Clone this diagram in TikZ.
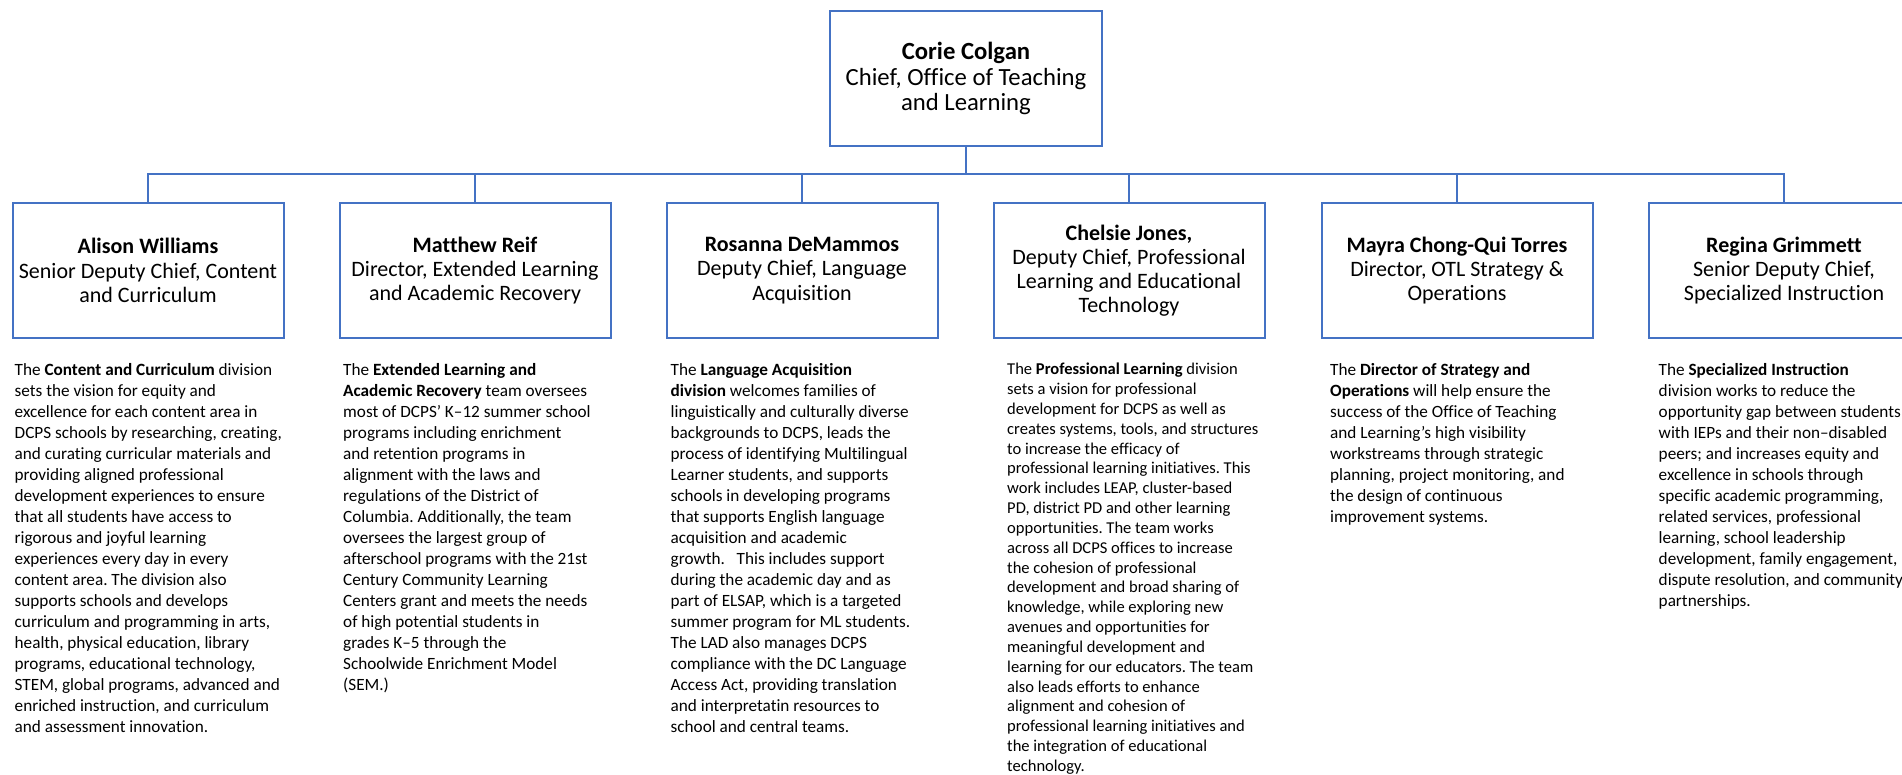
\documentclass[tikz,border=0pt]{standalone}
\usepackage{fontspec}
\setmainfont{Carlito}[Ligatures=NoCommon]
\usepackage{xcolor}
\usetikzlibrary{positioning}
\definecolor{boxblue}{HTML}{4472C4}
\frenchspacing

\begin{document}
\begin{tikzpicture}[x=1pt, y=-1pt,
    person/.style={draw=boxblue, line width=2pt, minimum width=271pt, minimum height=135pt,
        align=center, inner sep=0pt, font={\fontsize{22}{24.2}\selectfont}},
    blurb/.style={anchor=north west, inner sep=0pt, align=left,
        font={\fontsize{17.2}{21}\selectfont}},
    link/.style={draw=boxblue, line width=2pt}]
    \useasboundingbox (0,0) rectangle (1902,775);

    \node[person, minimum width=272pt, font={\fontsize{24.7}{25.8}\selectfont}] (chief) at (966, 78.5) {\textbf{Corie Colgan}\\Chief, Office of Teaching\\and Learning};
    \coordinate (bus) at (966, 174);

    \node[person] (alison) at (148, 270.5) {\textbf{Alison Williams}\\Senior Deputy Chief, Content\\and Curriculum};
    \node[person] (matthew) at (475, 270.5) {\textbf{Matthew Reif}\\Director, Extended Learning\\and Academic Recovery};
    \node[person] (rosanna) at (802, 270.5) {\textbf{Rosanna DeMammos}\\Deputy Chief, Language\\Acquisition};
    \node[person] (chelsie) at (1129, 270.5) {\textbf{Chelsie Jones,}\\Deputy Chief, Professional\\Learning and Educational\\Technology};
    \node[person] (mayra) at (1457, 270.5) {\textbf{Mayra Chong-Qui Torres}\\Director, OTL Strategy \&\\Operations};
    \node[person] (regina) at (1784, 270.5) {\textbf{Regina Grimmett}\\Senior Deputy Chief,\\Specialized Instruction};

    \draw[link] (chief) -- (bus);
    \foreach \who in {alison, matthew, rosanna, chelsie, mayra, regina}
        \draw[link] (bus) -| (\who);

    % division texts
    \node[blurb] (alisontext) at (14.5, 363) {The \textbf{Content and Curriculum} division\\
        sets the vision for equity and\\
        excellence for each content area in\\
        DCPS schools by researching, creating,\\
        and curating curricular materials and\\
        providing aligned professional\\
        development experiences to ensure\\
        that all students have access to\\
        rigorous and joyful learning\\
        experiences every day in every\\
        content area. The division also\\
        supports schools and develops\\
        curriculum and programming in arts,\\
        health, physical education, library\\
        programs, educational technology,\\
        STEM, global programs, advanced and\\
        enriched instruction, and curriculum\\
        and assessment innovation.};
    \node[blurb] (matthewtext) at (343, 363) {The \textbf{Extended Learning and}\\
        \textbf{Academic Recovery} team oversees\\
        most of DCPS\symbol{"0027} K–12 summer school\\
        programs including enrichment\\
        and retention programs in\\
        alignment with the laws and\\
        regulations of the District of\\
        Columbia. Additionally, the team\\
        oversees the largest group of\\
        afterschool programs with the 21st\\
        Century Community Learning\\
        Centers grant and meets the needs\\
        of high potential students in\\
        grades K–5 through the\\
        Schoolwide Enrichment Model\\
        (SEM.)};
    \node[blurb] (rosannatext) at (670.5, 363) {The \textbf{Language Acquisition}\\
        \textbf{division} welcomes families of\\
        linguistically and culturally diverse\\
        backgrounds to DCPS, leads the\\
        process of identifying Multilingual\\
        Learner students, and supports\\
        schools in developing programs\\
        that supports English language\\
        acquisition and academic\\
        growth.\ \ \ This includes support\\
        during the academic day and as\\
        part of ELSAP, which is a targeted\\
        summer program for ML students.\\
        The LAD also manages DCPS\\
        compliance with the DC Language\\
        Access Act, providing translation\\
        and interpretatin resources to\\
        school and central teams.};
    \node[blurb, font={\fontsize{16.55}{19.83}\selectfont}] (chelsietext) at (1007, 363) {The \textbf{Professional Learning} division\\
        sets a vision for professional\\
        development for DCPS as well as\\
        creates systems, tools, and structures\\
        to increase the efficacy of\\
        professional learning initiatives. This\\
        work includes LEAP, cluster-based\\
        PD, district PD and other learning\\
        opportunities. The team works\\
        across all DCPS offices to increase\\
        the cohesion of professional\\
        development and broad sharing of\\
        knowledge, while exploring new\\
        avenues and opportunities for\\
        meaningful development and\\
        learning for our educators. The team\\
        also leads efforts to enhance\\
        alignment and cohesion of\\
        professional learning initiatives and\\
        the integration of educational\\
        technology.};
    \node[blurb] (mayratext) at (1330, 363) {The \textbf{Director of Strategy and}\\
        \textbf{Operations} will help ensure the\\
        success of the Office of Teaching\\
        and Learning’s high visibility\\
        workstreams through strategic\\
        planning, project monitoring, and\\
        the design of continuous\\
        improvement systems.};
    \node[blurb] (reginatext) at (1658.5, 363) {The \textbf{Specialized Instruction}\\
        division works to reduce the\\
        opportunity gap between students\\
        with IEPs and their non–disabled\\
        peers; and increases equity and\\
        excellence in schools through\\
        specific academic programming,\\
        related services, professional\\
        learning, school leadership\\
        development, family engagement,\\
        dispute resolution, and community\\
        partnerships.};
\end{tikzpicture}
\end{document}
